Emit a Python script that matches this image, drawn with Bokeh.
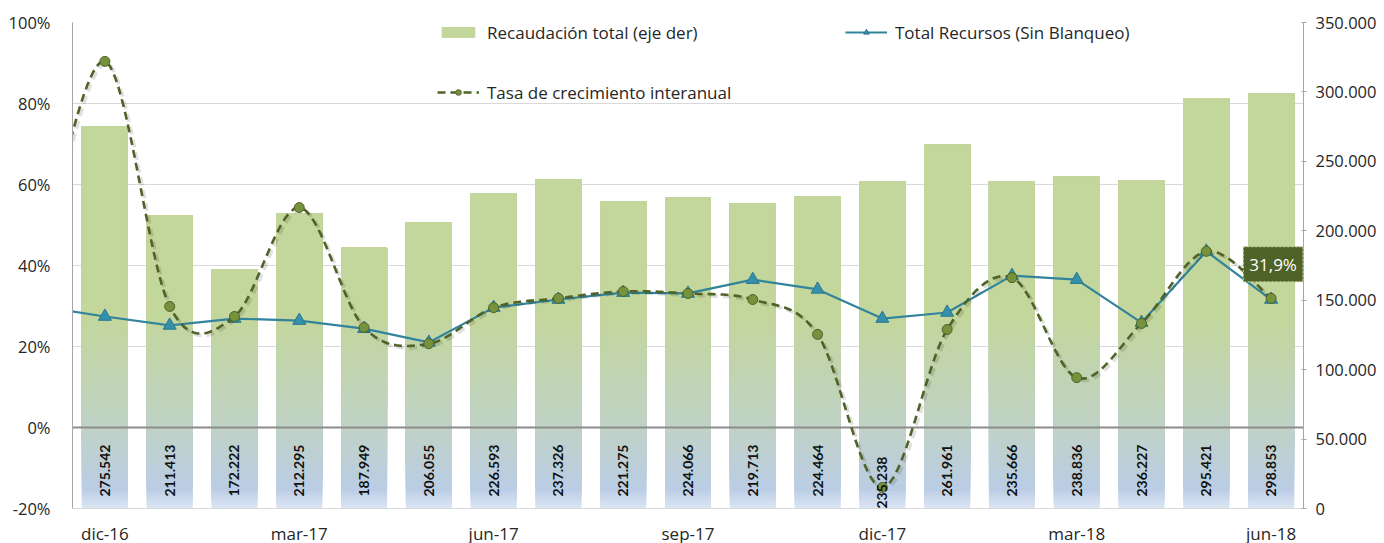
import numpy as np
from bokeh.plotting import figure
from bokeh.models import (Range1d, LinearAxis, FixedTicker, CustomJSTickFormatter,
                          ColumnDataSource, Legend, LegendItem, Label, LabelSet)
from bokeh.core.properties import value
from bokeh.embed import file_html
from bokeh.resources import INLINE

# ---------------- data ----------------
months = ["dic-16", "ene-17", "feb-17", "mar-17", "abr-17", "may-17", "jun-17",
          "jul-17", "ago-17", "sep-17", "oct-17", "nov-17", "dic-17", "ene-18",
          "feb-18", "mar-18", "abr-18", "may-18", "jun-18"]
tick_months = ["dic-16", "mar-17", "jun-17", "sep-17", "dic-17", "mar-18", "jun-18"]

recaudacion = [275542, 211413, 172222, 212295, 187949, 206055, 226593, 237326,
               221275, 224066, 219713, 224464, 235238, 261961, 235666, 238836,
               236227, 295421, 298853]

total_recursos = [27.4, 25.2, 26.9, 26.4, 24.4, 21.0, 29.6, 31.6, 33.3, 33.1,
                  36.5, 34.1, 26.9, 28.4, 37.5, 36.5, 25.9, 43.5, 31.6]
total_recursos_prev = 29.9   # nov-16, outside the visible range

tasa = [90.4, 29.9, 27.4, 54.3, 24.7, 20.7, 29.6, 31.9, 33.6, 33.1,
        31.6, 23.0, -14.8, 24.2, 37.0, 12.3, 25.7, 43.5, 31.9]
tasa_prev = 40.0             # nov-16, outside the visible range

FONT = "Open Sans"
n = len(months)
xpos = [i + 0.5 for i in range(n)]

p = figure(frame_width=1231, frame_height=486, min_border_left=72, min_border_right=78,
           min_border_top=22, min_border_bottom=33,
           x_range=Range1d(0, n), y_range=Range1d(-20, 100),
           output_backend="svg", toolbar_location=None, background_fill_color="white",
           border_fill_color="white", outline_line_color=None)
p.extra_y_ranges = {"right": Range1d(0, 350000)}

# ---------------- gradient bars (stacked bands drawn bottom -> top) ----------------
def band_color(v):
    stops = [(0, (220, 230, 244)), (14000, (186, 205, 229)), (60000, (192, 210, 196)),
             (140000, (195, 214, 155))]
    if v >= stops[-1][0]:
        c = stops[-1][1]
    else:
        for (a, ca), (b, cb) in zip(stops[:-1], stops[1:]):
            if a <= v <= b:
                t = (v - a) / (b - a)
                c = tuple(int(round(ca[k] + (cb[k] - ca[k]) * t)) for k in range(3))
                break
    return "#%02x%02x%02x" % c

band_edges = list(range(0, 150001, 2500))
bx, bb, bt, bc = [], [], [], []
for e in band_edges:
    for i, v in enumerate(recaudacion):
        if e < v:
            bx.append(xpos[i]); bb.append(e); bt.append(v)
            bc.append(band_color(e + 1250 if e < 150000 else 150000))
bar_src = ColumnDataSource(dict(x=bx, bottom=bb, top=bt, color=bc))
bars = p.vbar(x="x", bottom="bottom", top="top", width=0.71, fill_color="color",
              line_color=None, source=bar_src, y_range_name="right")

# zero line
p.hspan(y=[0], line_color="#8c8c8c", line_width=2)

# bar value labels
lab_txt = [f"{v:,}".replace(",", ".") for v in recaudacion]
lab_off = [0] * n
lab_off[12] = -12
lab_src = ColumnDataSource(dict(x=xpos, y=[8600] * n, text=lab_txt, off=lab_off))
p.add_layout(LabelSet(x="x", y="y", text="text", y_offset="off", angle=np.pi / 2,
                      y_range_name="right", source=lab_src, text_align="left",
                      text_baseline="middle", text_font=value("Lato"),
                      text_font_style="bold", text_font_size="14px",
                      text_color="#111111"))

# ---------------- Total Recursos line ----------------
rx = [-0.5] + xpos
ry = [total_recursos_prev] + total_recursos
rec_line = p.line(rx, ry, line_color="#31849B", line_width=2.2)
rec_mk = p.scatter(xpos, total_recursos, marker="triangle", size=13,
                   fill_color="#3590AA", line_color="#2A7890", line_width=1)

# ---------------- Tasa de crecimiento (smoothed dashed line) ----------------
def catmull(xs, ys, steps=24):
    pts = list(zip(xs, ys))
    ox, oy = [], []
    for i in range(len(pts) - 1):
        p0 = pts[i - 1] if i > 0 else pts[i]
        p1, p2 = pts[i], pts[i + 1]
        p3 = pts[i + 2] if i + 2 < len(pts) else pts[i + 1]
        for t in np.linspace(0, 1, steps, endpoint=False):
            t2, t3 = t * t, t * t * t
            for k, out in ((0, ox), (1, oy)):
                out.append(0.5 * (2 * p1[k] + (-p0[k] + p2[k]) * t
                                  + (2 * p0[k] - 5 * p1[k] + 4 * p2[k] - p3[k]) * t2
                                  + (-p0[k] + 3 * p1[k] - 3 * p2[k] + p3[k]) * t3))
    ox.append(pts[-1][0]); oy.append(pts[-1][1])
    return ox, oy

sx, sy = catmull([-0.5] + xpos, [tasa_prev] + tasa)
p.line([x + 0.035 for x in sx], [y - 0.5 for y in sy], line_color="#000000",
       line_alpha=0.12, line_width=3.5, line_dash="8 5")
tasa_line = p.line(sx, sy, line_color="#4F6228", line_width=2.6, line_dash="8 5")
tasa_mk = p.scatter(xpos, tasa, marker="circle", size=10, fill_color="#76923C",
                    line_color="#4F6228", line_width=1)

# last value callout
last_txt = f"{tasa[-1]:.1f}".replace(".", ",") + "%"
p.add_layout(Label(x=xpos[-1], y=tasa[-1], x_offset=2, y_offset=34, text=last_txt,
                   text_align="center", text_baseline="middle", text_color="white",
                   text_font=FONT, text_font_size="17px",
                   background_fill_color="#4F6228", border_line_color="#C4D79B",
                   border_line_dash="2 2", border_line_width=1, padding=6))

# ---------------- axes ----------------
p.xaxis.ticker = FixedTicker(ticks=[xpos[months.index(m)] for m in tick_months])
p.xaxis.formatter = CustomJSTickFormatter(args=dict(labels=months),
                                          code="return labels[Math.round(tick - 0.5)];")
p.xaxis.axis_line_color = "#D9D9D9"
p.xaxis.major_tick_line_color = None
p.xaxis.minor_tick_line_color = None
p.xaxis.major_label_standoff = 7
p.xaxis.major_label_text_font = FONT
p.xaxis.major_label_text_font_size = "17px"
p.xaxis.major_label_text_color = "#262626"

p.yaxis.ticker = FixedTicker(ticks=[-20, 0, 20, 40, 60, 80, 100])
p.yaxis.formatter = CustomJSTickFormatter(code="return tick.toFixed(0) + '%';")
p.yaxis.axis_line_color = "#A6A6A6"
p.yaxis.major_tick_line_color = None
p.yaxis.minor_tick_line_color = None
p.yaxis.major_label_standoff = 16
p.yaxis.major_label_text_font = FONT
p.yaxis.major_label_text_font_size = "16.5px"
p.yaxis.major_label_text_color = "#262626"

raxis = LinearAxis(y_range_name="right",
                   ticker=FixedTicker(ticks=list(range(0, 350001, 50000))),
                   formatter=CustomJSTickFormatter(
                       code="return tick.toFixed(0).replace(/\\B(?=(\\d{3})+(?!\\d))/g, '.');"))
raxis.axis_line_color = "#A6A6A6"
raxis.major_tick_line_color = "#A6A6A6"
raxis.major_tick_in = 2
raxis.major_tick_out = 3
raxis.minor_tick_line_color = None
raxis.major_label_standoff = 9
raxis.major_label_text_font = FONT
raxis.major_label_text_font_size = "16.5px"
raxis.major_label_text_color = "#262626"
p.add_layout(raxis, "right")

p.xgrid.grid_line_color = None
p.ygrid.grid_line_color = "#D9D9D9"
p.ygrid.grid_line_width = 1

# ---------------- legends ----------------
green_idx = len(bx) - 1
leg_kw = dict(padding=0, margin=0, border_line_color=None, background_fill_alpha=0,
              label_text_font=FONT, label_text_font_size="17px",
              label_text_color="#262626", glyph_width=42, glyph_height=14,
              label_height=24, label_standoff=8, spacing=0, label_width=358)
leg1 = Legend(items=[LegendItem(label="Recaudación total (eje der)", renderers=[bars], index=green_idx),
                     LegendItem(label="Total Recursos (Sin Blanqueo)", renderers=[rec_line, rec_mk])],
              orientation="horizontal", location=(365, 464), **leg_kw)
leg2 = Legend(items=[LegendItem(label="Tasa de crecimiento interanual", renderers=[tasa_line, tasa_mk])],
              orientation="horizontal", location=(365, 404), **leg_kw)
p.add_layout(leg1, "center")
p.add_layout(leg2, "center")

open("out.html", "w").write(file_html(p, INLINE))
